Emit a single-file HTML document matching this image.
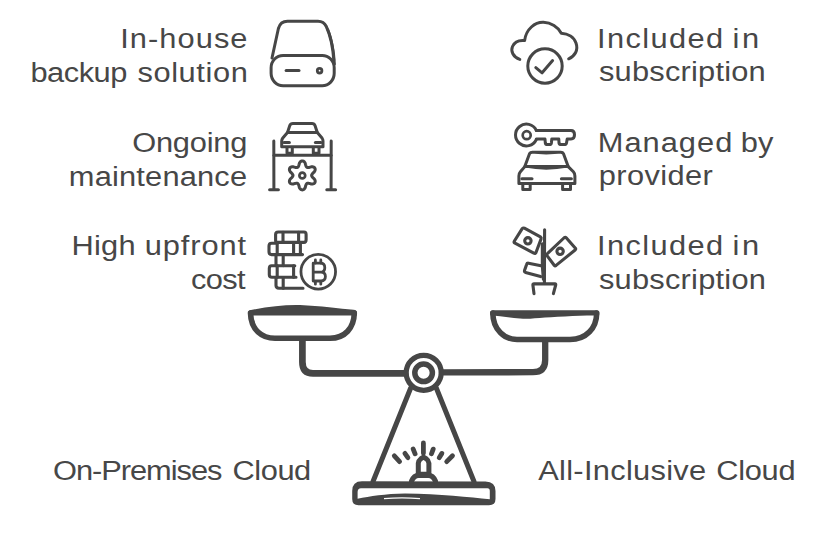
<!DOCTYPE html>
<html><head><meta charset="utf-8">
<style>
html,body{margin:0;padding:0;background:#fff;}
body{width:840px;height:535px;overflow:hidden;}
svg{display:block;}
text{font-family:"Liberation Sans",sans-serif;font-size:28px;fill:#474747;}
</style></head>
<body>
<svg width="840" height="535" viewBox="0 0 840 535">
<rect width="840" height="535" fill="#fff"/>
<text id="w0" transform="translate(120.20 47.5) scale(1.1 1)" textLength="115.74" lengthAdjust="spacing">In-house</text>
<text id="w1" transform="translate(30.40 81.5) scale(1.1 1)" textLength="88.16" lengthAdjust="spacing">backup</text>
<text id="w2" transform="translate(137.40 81.5) scale(1.1 1)" textLength="100.39" lengthAdjust="spacing">solution</text>
<text id="w3" transform="translate(132.20 151.5) scale(1.1 1)" textLength="104.65" lengthAdjust="spacing">Ongoing</text>
<text id="w4" transform="translate(68.80 185.5) scale(1.1 1)" textLength="162.10" lengthAdjust="spacing">maintenance</text>
<text id="w5" transform="translate(71.40 255) scale(1.1 1)" textLength="58.39" lengthAdjust="spacing">High</text>
<text id="w6" transform="translate(144.80 255) scale(1.1 1)" textLength="92.15" lengthAdjust="spacing">upfront</text>
<text id="w7" transform="translate(191.00 289.3) scale(1.1 1)" textLength="49.61" lengthAdjust="spacing">cost</text>
<text id="w8" transform="translate(597.00 47.5) scale(1.1 1)" textLength="114.74" lengthAdjust="spacing">Included</text>
<text id="w9" transform="translate(732.40 47.5) scale(1.1 1)" textLength="24.34" lengthAdjust="spacing">in</text>
<text id="w10" transform="translate(599.00 81) scale(1.1 1)" textLength="151.54" lengthAdjust="spacing">subscription</text>
<text id="w11" transform="translate(597.80 151.5) scale(1.1 1)" textLength="122.26" lengthAdjust="spacing">Managed</text>
<text id="w12" transform="translate(740.80 151.5) scale(1.1 1)" textLength="29.66" lengthAdjust="spacing">by</text>
<text id="w13" transform="translate(598.80 185) scale(1.1 1)" textLength="103.58" lengthAdjust="spacing">provider</text>
<text id="w14" transform="translate(597.00 255) scale(1.1 1)" textLength="114.74" lengthAdjust="spacing">Included</text>
<text id="w15" transform="translate(732.40 255) scale(1.1 1)" textLength="24.34" lengthAdjust="spacing">in</text>
<text id="w16" transform="translate(599.00 289.3) scale(1.1 1)" textLength="151.72" lengthAdjust="spacing">subscription</text>
<text id="w17" transform="translate(53.00 480) scale(1.1 1)" textLength="154.04" lengthAdjust="spacing">On-Premises</text>
<text id="w18" transform="translate(232.60 480) scale(1.1 1)" textLength="71.50" lengthAdjust="spacing">Cloud</text>
<text id="w19" transform="translate(538.20 480) scale(1.1 1)" textLength="152.69" lengthAdjust="spacing">All-Inclusive</text>
<text id="w20" transform="translate(716.20 480) scale(1.1 1)" textLength="72.22" lengthAdjust="spacing">Cloud</text>
<g fill="none" stroke="#464646" stroke-linecap="round" stroke-linejoin="round">

<!-- hard drive -->
<g stroke-width="3.0">
<path d="M272 58 L278.4 28.5 Q280.3 21.2 287.5 21.2 L318 21.2 Q323.8 21.2 326.3 26.5 C329.8 34 332.8 46 333.8 60"/>
<path d="M327.8 29.5 C331.2 38 333.8 50 334.6 64" stroke-width="2.6"/>
<rect x="271.1" y="55.4" width="63.1" height="30.4" rx="12" ry="12.5"/>
<line x1="286.1" y1="70.4" x2="299" y2="70.4"/>
<circle cx="319.6" cy="70.7" r="2.3" stroke-width="2.8"/>
</g>
<!-- car lift -->
<g stroke-width="3.0">
<path d="M273.8 141 L273.9 189.6"/>
<path d="M269.6 189.8 L278.4 189.8"/>
<path d="M331.2 141 L331.1 189.6"/>
<path d="M326.8 189.8 L335.6 189.8"/>
<line x1="274" y1="155.2" x2="331" y2="155.2"/>
<path d="M287.5 132.5 L289.8 125.5 Q290.5 123.5 293 123.5 L312 123.5 Q314.3 123.5 315 125.5 L317.3 132.5"/>
<path d="M287.5 132.5 L317.3 132.5 L322 138 Q323 139.5 323 141 L323 146.8 L281.7 146.8 L281.7 141 Q281.7 139.5 282.8 138 Z"/>
<line x1="284" y1="142.6" x2="289.4" y2="142.6"/>
<line x1="315.4" y1="142.6" x2="320.8" y2="142.6"/>
<path d="M287 147.5 L287 153.2 L292.3 153.2 L292.3 147.5"/>
<path d="M313.3 147.5 L313.3 153.2 L319 153.2 L319 147.5"/>
<path d="M311.60 175.40 L311.64 175.73 L311.76 176.06 L311.95 176.41 L312.22 176.79 L312.55 177.21 L312.95 177.66 L313.43 178.18 L314.15 178.80 L314.58 179.39 L314.89 179.98 L315.08 180.56 L315.18 181.13 L315.17 181.68 L315.06 182.19 L314.86 182.65 L314.56 183.06 L314.17 183.41 L313.70 183.68 L313.16 183.89 L312.56 184.01 L311.90 184.04 L311.17 183.96 L310.27 183.65 L309.58 183.49 L308.99 183.37 L308.47 183.29 L308.00 183.25 L307.60 183.26 L307.25 183.33 L306.95 183.45 L306.69 183.65 L306.46 183.92 L306.25 184.27 L306.05 184.69 L305.86 185.18 L305.66 185.75 L305.46 186.43 L305.28 187.36 L304.99 188.03 L304.63 188.59 L304.22 189.05 L303.77 189.42 L303.30 189.68 L302.80 189.85 L302.30 189.90 L301.80 189.85 L301.30 189.68 L300.83 189.42 L300.38 189.05 L299.97 188.59 L299.61 188.03 L299.32 187.36 L299.14 186.43 L298.94 185.75 L298.74 185.18 L298.55 184.69 L298.35 184.27 L298.14 183.92 L297.91 183.65 L297.65 183.45 L297.35 183.33 L297.00 183.26 L296.60 183.25 L296.13 183.29 L295.61 183.37 L295.02 183.49 L294.33 183.65 L293.43 183.96 L292.70 184.04 L292.04 184.01 L291.44 183.89 L290.90 183.68 L290.43 183.41 L290.04 183.06 L289.74 182.65 L289.54 182.19 L289.43 181.68 L289.42 181.13 L289.52 180.56 L289.71 179.98 L290.02 179.39 L290.45 178.80 L291.17 178.18 L291.65 177.66 L292.05 177.21 L292.38 176.79 L292.65 176.41 L292.84 176.06 L292.96 175.73 L293.00 175.40 L292.96 175.07 L292.84 174.74 L292.65 174.39 L292.38 174.01 L292.05 173.59 L291.65 173.14 L291.17 172.62 L290.45 172.00 L290.02 171.41 L289.71 170.82 L289.52 170.24 L289.42 169.67 L289.43 169.12 L289.54 168.61 L289.74 168.15 L290.04 167.74 L290.43 167.39 L290.90 167.12 L291.44 166.91 L292.04 166.79 L292.70 166.76 L293.43 166.84 L294.33 167.15 L295.02 167.31 L295.61 167.43 L296.13 167.51 L296.60 167.55 L297.00 167.54 L297.35 167.47 L297.65 167.35 L297.91 167.15 L298.14 166.88 L298.35 166.53 L298.55 166.11 L298.74 165.62 L298.94 165.05 L299.14 164.37 L299.32 163.44 L299.61 162.77 L299.97 162.21 L300.38 161.75 L300.83 161.38 L301.30 161.12 L301.80 160.95 L302.30 160.90 L302.80 160.95 L303.30 161.12 L303.77 161.38 L304.22 161.75 L304.63 162.21 L304.99 162.77 L305.28 163.44 L305.46 164.37 L305.66 165.05 L305.86 165.62 L306.05 166.11 L306.25 166.53 L306.46 166.88 L306.69 167.15 L306.95 167.35 L307.25 167.47 L307.60 167.54 L308.00 167.55 L308.47 167.51 L308.99 167.43 L309.58 167.31 L310.27 167.15 L311.17 166.84 L311.90 166.76 L312.56 166.79 L313.16 166.91 L313.70 167.12 L314.17 167.39 L314.56 167.74 L314.86 168.15 L315.06 168.61 L315.17 169.12 L315.18 169.67 L315.08 170.24 L314.89 170.82 L314.58 171.41 L314.15 172.00 L313.43 172.62 L312.95 173.14 L312.55 173.59 L312.22 174.01 L311.95 174.39 L311.76 174.74 L311.64 175.07 Z"/>
<circle cx="302.3" cy="175.5" r="2.9" stroke-width="2.7"/>
</g>
<!-- coins -->
<g stroke-width="3.1">
<path d="M283 232 L304 232 Q306.1 232 306.1 234.6 L306.1 239.8 Q306.1 242.4 304 242.4 L277.5 242.4 Q275.6 242.4 275.6 240.2 L275.6 234.6 Q275.6 232 278.3 232 Z"/>
<line x1="283" y1="232.3" x2="283" y2="242.3"/>
<line x1="298.6" y1="232.3" x2="298.6" y2="242.3"/>
<path d="M302.5 254.6 L271.6 254.6 Q269 254.6 269 251.8 L269 246 Q269 243.2 271.6 243.2 L277.2 243.2"/>
<path d="M300.4 243.2 L300.4 254.4"/>
<line x1="277.2" y1="243.4" x2="277.2" y2="254.4"/>
<line x1="293.6" y1="243.4" x2="293.6" y2="254.4"/>
<line x1="276" y1="255" x2="276" y2="265.6"/>
<line x1="283.2" y1="255" x2="283.2" y2="265.6"/>
<path d="M294.8 265.7 L271.6 265.7 Q269.3 265.7 269.3 268.5 L269.3 274.8 Q269.3 277.3 272 277.3 L296 277.3"/>
<line x1="277.2" y1="265.8" x2="277.2" y2="277.2"/>
<line x1="293.6" y1="265.8" x2="293.6" y2="277.2"/>
<path d="M276 277.5 L276 285.6 Q276 288.2 279 288.2 L303 288.2"/>
<line x1="283.2" y1="277.5" x2="283.2" y2="288.2"/>
</g>
<g stroke-width="2.8">
<circle cx="318.25" cy="271.75" r="17.3"/>
<path d="M313.2 263.2 L313.2 281 M313.2 263.2 L320.5 263.2 Q324.8 263.2 324.8 267.7 Q324.8 272.2 320.5 272.2 L313.2 272.2 M320.5 272.2 L321 272.2 Q325.4 272.2 325.4 276.6 Q325.4 281 321 281 L313.2 281"/>
<path d="M315.4 260 L315.4 263 M320.8 260 L320.8 263 M315.4 281.4 L315.4 284.2 M320.8 281.4 L320.8 284.2"/>
</g>


<!-- cloud -->
<g stroke-width="3.0">
<path d="M519.8 59.4 C513 57 510.5 51 512.5 46.5 C514.5 42 519 40 524.6 40.6 C526 29 535 22 543.5 22.3 C551 22.5 558 27 561.3 33.2 C568 33.5 574 37 576 43 C578.5 50 575 56 568.7 58.8"/>
<circle cx="545" cy="66" r="17.2"/>
<path d="M535.8 67.6 L542.1 72.8 L552.6 60.6"/>
</g>
<!-- key + car -->
<g stroke-width="3.0">
<path d="M536.3 130.4 A10.9 10.9 0 1 0 536.3 139.6"/>
<circle cx="526.7" cy="135.2" r="4" stroke-width="2.7"/>
<path d="M536.3 130.6 L571 130.6 Q574.5 130.6 574.5 134.8 Q574.5 139 571 139 L567.2 139 L566.5 143 Q566.2 144.6 563.8 144.6 L561.6 144.6 Q559.2 144.6 559 143 L558.8 139 L551.8 139 L551.4 143 Q551.2 144.6 549 144.6 L547.6 144.6 Q545.5 144.6 545.3 143 L545 139 L536.3 139"/>
<path d="M524.8 166.6 L529.6 153.6 Q530.4 152.2 532.4 152.2 L560.8 152.2 Q562.8 152.2 563.4 153.6 L568.2 166.6"/>
<path d="M524.8 166.6 L568.2 166.6 L573.4 171.8 Q574.9 173.4 574.9 176 L574.9 183.6 L518.9 183.6 L518.9 176 Q518.9 173.4 520.4 171.8 Z"/>
<line x1="521.9" y1="178.7" x2="532" y2="178.7"/>
<line x1="561.4" y1="178.7" x2="571.4" y2="178.7"/>
<path d="M522.8 184.2 L522.8 189.6 L530.2 189.6 L530.2 184.2"/>
<path d="M562.6 184.2 L562.6 189.6 L570.5 189.6 L570.5 184.2"/>
</g>
<g fill="#464646" stroke="none">
<path d="M530.5 152 Q546 150 562.5 152 Q546 157.2 530.5 152 Z"/>
<path d="M525 165.8 Q546 164.8 568 165.8 L568 167.5 Q546 171.8 525 167.5 Z"/>
</g>
<!-- money plant -->
<g stroke-width="3.1">
<path d="M544.6 229.8 L544.4 283"/>
<path d="M542.6 244 L542.6 266 L543.6 279" stroke-width="3.6"/>
<path d="M522.2 228.6 Q523.2 227.6 524.4 228.2 L540.4 236.8 Q541.6 237.6 541.1 238.9 L536 252.5 Q535.3 254 533.8 253.2 L515 243.2 Q513.6 242.3 514.4 241 Z"/>
<circle cx="527.9" cy="240.8" r="3.2"/>
<path d="M564.4 237.5 Q565.4 236.9 566.2 237.8 L575.4 248.2 Q576.1 249.2 575.1 250 L556.1 265.4 Q555 266.2 554.2 265.2 L547 255.6 Q546.4 254.5 547.4 253.7 Z"/>
<circle cx="560.1" cy="251.3" r="3.2"/>
<path d="M541 265.8 L528.5 263.2 Q527 263 526.6 264.4 L524.5 270.6 Q524.2 272 525.6 272.4 L540.6 276.6"/>
<path d="M534 293.6 L532.9 285 Q532.9 283.9 534 283.9 L555 283.9 Q556 283.9 555.7 285 L553.4 293.6"/>
</g>

</g>

<!-- SCALE -->
<g fill="#464646" stroke="none">
<path d="M248 313 Q248 310.3 251 310 C268 306.5 285 304.6 300 305 C320 305.8 340 308.7 353.5 309.7 Q357 310 357 313 L357 315.5 L248 315.5 Z"/>
<path d="M490.3 313 Q490.3 310.2 493.3 310.2 L596.2 310.2 Q599.2 310.2 599.2 313 L599.2 315.3 C585 315.6 560 316.5 545 317.6 C535 318.4 528 319.3 520 318.6 C510 317.6 500 316 490.3 315.3 Z"/>
</g>
<g fill="none" stroke="#464646" stroke-width="5.6" stroke-linecap="round" stroke-linejoin="round">
<path d="M250.5 313 C250.8 330 262 338.3 275 338.3 L330 338.3 C345 338.3 354 328 354.3 313"/>
<path d="M492.8 313 C493 330.5 505 339.5 517 339.5 L570 339.5 C586 339.5 596.6 328.5 596.7 313"/>
<path d="M302.4 340 L302.4 362 Q302.4 373.4 313 373.4 L405 373.4" stroke-width="6.7"/>
<path d="M545.2 342 L545.2 360 Q545.2 372.2 533 372.2 L442 372.4" stroke-width="6.3"/>
<circle cx="423.7" cy="372.8" r="17.5" stroke-width="5.2"/>
<circle cx="423.6" cy="372.8" r="8.8" stroke-width="5.5"/>
<path d="M410.7 388 L373 481.5 M436.3 388 L474 481.5" stroke-width="5"/>
</g>
<!-- base -->
<path fill="#464646" fill-rule="evenodd" d="M362 481.2 L485.5 481.6 Q495.5 482 495.5 491 L495.5 499 Q495.5 505.2 489 505.2 L358.5 505.2 Q352.2 505.2 352.2 499 L352.2 491 Q352.2 481.2 362 481.2 Z M361 488.2 L487.5 488.2 Q489.8 488.2 489.8 491 L489.8 499.3 C470 497.5 440 494 405 493.6 C385 493.8 370 496.5 357.6 498.8 L357.6 492 Q357.6 488.2 361 488.2 Z"/>
<path d="M384 498.7 Q402 497.2 420 498.7" stroke="#fff" stroke-width="1.3" fill="none"/>
<!-- beacon -->
<g fill="none" stroke="#464646" stroke-linecap="round" stroke-linejoin="round">
<path d="M394.3 455.8 L399.6 461.6 M404.9 453.4 L407.9 457.7 M413.2 449.1 L415.1 453.8 M423.4 443 L423.4 453.2 M433.2 449.1 L431.5 453.8 M441.9 453.4 L439.2 457.7 M452.5 455.8 L446.7 461.6" stroke-width="4.8"/>
<path d="M418.3 474.2 L418.3 463.2 Q418.6 460.5 421 458.6 L423.5 457 L426 458.6 Q428.6 460.5 428.9 463.2 L428.9 474.2 Z" stroke-width="5"/>
<path d="M411.6 481 Q414 475.3 418.5 475.3 L428.5 475.3 Q433 475.3 435.4 481" stroke-width="5.2"/>
</g>

</svg>
</body></html>
